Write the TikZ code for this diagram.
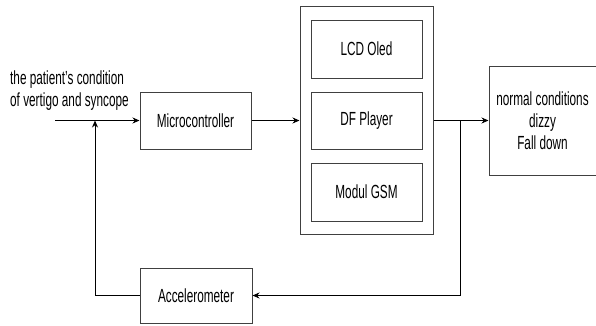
\documentclass[tikz,border=0pt]{standalone}
\usepackage{fontspec}
\setmainfont[FakeStretch=0.62]{Liberation Sans}
\usetikzlibrary{arrows.meta}
\begin{document}
\begin{tikzpicture}[x=1pt,y=-1pt,
  blockbox/.style={draw=black!75,line width=1pt,fill=white,inner sep=0pt,font=\fontsize{19}{22}\selectfont},
  flow/.style={draw=black,line width=1pt,-{Stealth[length=7pt,width=6pt]}},
  wire/.style={draw=black,line width=1pt},
  lbl/.style={inner sep=0pt,font=\fontsize{19}{22}\selectfont,align=center}]
\useasboundingbox (0,0) rectangle (596,325);
% blocks
\node[blockbox,minimum width=111pt,minimum height=57pt] (mcu) at (195.5,120.5) {Microcontroller};
\node[blockbox,minimum width=133pt,minimum height=228pt] (out) at (366.5,120) {};
\node[blockbox,minimum width=111pt,minimum height=58pt] (lcd) at (366.5,49) {LCD Oled};
\node[blockbox,minimum width=111pt,minimum height=57pt] (df) at (366.5,120.5) {DF Player};
\node[blockbox,minimum width=111pt,minimum height=58pt] (gsm) at (366.5,192) {Modul GSM};
\node[blockbox,minimum width=107pt,minimum height=109pt,align=center] (res) at (542.5,120.5) {normal conditions\\dizzy\\Fall down};
\node[blockbox,minimum width=112pt,minimum height=55pt] (acc) at (196,295.5) {Accelerometer};
% input text
\node[lbl,align=left,anchor=west] (txt) at (10,91) {the patient's condition\\of vertigo and syncope};
% junction points
\coordinate (in) at (55,120.5);
\coordinate (fb) at (95,120.5);
\coordinate (fbl) at (95,295.5);
\coordinate (br) at (460,120.5);
\coordinate (brl) at (460,295.5);
% connectors
\draw[flow] (in) -- (mcu.west);
\draw[flow] (mcu.east) -- (out.west |- mcu.east);
\draw[flow] (out.east |- df.east) -- (res.west |- df.east);
\draw[wire] (br) -- (brl);
\draw[flow] (brl) -- (acc.east);
\draw[wire] (acc.west) -- (fbl);
\draw[flow] (fbl) -- (fb);
\end{tikzpicture}
\end{document}
